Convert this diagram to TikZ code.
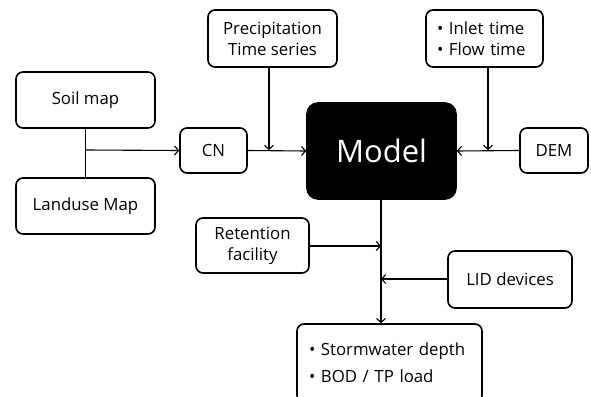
\documentclass[tikz,border=0pt]{standalone}
\usepackage{fontspec}
\setmainfont{Open Sans}
\usetikzlibrary{positioning,arrows.meta}
\tikzset{
  box/.style={draw, line width=1.6pt, rounded corners=7pt, fill=white,
    inner sep=0pt, font=\fontsize{16.8}{21}\selectfont, align=center},
  modelbox/.style={box, fill=black, text=white, rounded corners=11pt,
    font=\fontsize{31}{36}\selectfont},
  link/.style={line width=1.1pt},
  flow/.style={link, -{Straight Barb[length=4pt,width=9pt]}}
}
\begin{document}
\begin{tikzpicture}[x=1pt,y=-1pt]
  \useasboundingbox (0,0) rectangle (591,396);
  % inputs on the left
  \node[box, minimum width=139pt, minimum height=56pt] (soil) at (85.5,100) {Soil map};
  \node[box, minimum width=139pt, minimum height=56pt] (landuse) at (85.5,206) {Landuse Map};
  \node[box, minimum width=67pt, minimum height=45pt] (cn) at (213.5,150.5) {CN};
  \node[box, minimum width=129pt, minimum height=57pt] (precip) at (272.5,38.5) {Precipitation\\Time series};
  % model
  \node[modelbox, minimum width=149pt, minimum height=96pt] (model) at (381.5,151) {Model};
  % inputs on the right
  \node[box, minimum width=117pt, minimum height=57pt, text width=95pt, align=left] (inlet) at (484.5,38.5) {• Inlet time\\• Flow time};
  \node[box, minimum width=68pt, minimum height=45pt] (dem) at (554,150.5) {DEM};
  % below the model
  \node[box, minimum width=113pt, minimum height=55pt] (retention) at (252.5,245.5) {Retention\\facility};
  \node[box, minimum width=124pt, minimum height=57pt] (lid) at (510,279.5) {LID devices};
  \node[box, minimum width=185pt, minimum height=78pt, text width=161pt, align=left,
    font=\fontsize{16.8}{27}\selectfont] (output) at (389.5,363) {• Stormwater depth\\• BOD / TP load};
  % junctions
  \coordinate (soilj) at (85.5,150);
  \coordinate (precj) at (269,150);
  \coordinate (inletj) at (488,150);
  \coordinate (retj) at (381,246);
  \coordinate (lidj) at (381,279);
  % connectors
  \draw[link] (soil.south) -- (landuse.north);
  \draw[flow] (soilj) -- (cn.west);
  \draw[flow] (cn.east) -- (model.west);
  \draw[flow] (precip.south -| precj) -- (precj);
  \draw[flow] (dem.west) -- (model.east);
  \draw[flow] (inlet.south -| inletj) -- (inletj);
  \draw[flow] (model.south -| retj) -- (output.north -| retj);
  \draw[flow] (retention.east |- retj) -- (retj);
  \draw[flow] (lid.west |- lidj) -- (lidj);
\end{tikzpicture}
\end{document}
